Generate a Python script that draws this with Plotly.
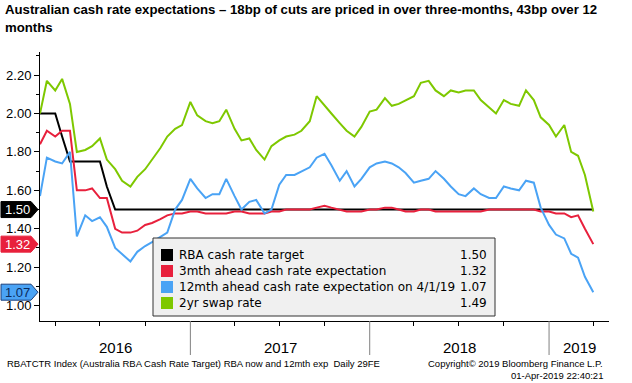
import plotly.graph_objects as go
import pandas as pd

# semi-monthly observation dates (1st and 15th), Mar 2016 .. Apr 2019
dates = []
for y in range(2016, 2020):
    for m in range(1, 13):
        for d in (1, 15):
            s = f"{y}-{m:02d}-{d:02d}"
            if "2016-03-01" <= s <= "2019-04-01":
                dates.append(s)

rba_target = [2.00, 2.00, 2.00, 1.88, 1.75, 1.75, 1.75, 1.75, 1.75, 1.62] + [1.50] * 65

exp_3m = [1.84, 1.91, 1.88, 1.91, 1.91, 1.60, 1.60, 1.61, 1.56, 1.56,
          1.40, 1.38, 1.38, 1.39, 1.42, 1.43, 1.45, 1.47, 1.48, 1.48,
          1.49, 1.49, 1.48, 1.48, 1.48, 1.48, 1.49, 1.49, 1.48, 1.48,
          1.48, 1.49, 1.49, 1.50, 1.50, 1.50, 1.50, 1.51, 1.52, 1.51,
          1.50, 1.49, 1.49, 1.49, 1.50, 1.50, 1.51, 1.51, 1.50, 1.49,
          1.49, 1.50, 1.50, 1.49, 1.49, 1.49, 1.49, 1.49, 1.49, 1.49,
          1.50, 1.50, 1.50, 1.50, 1.50, 1.50, 1.50, 1.49, 1.49, 1.48,
          1.48, 1.46, 1.47, 1.40, 1.32]

exp_12m = [1.57, 1.77, 1.75, 1.74, 1.80, 1.36, 1.47, 1.44, 1.46, 1.41,
           1.30, 1.27, 1.23, 1.28, 1.31, 1.33, 1.36, 1.38, 1.50, 1.55,
           1.66, 1.61, 1.56, 1.58, 1.58, 1.66, 1.57, 1.50, 1.54, 1.55,
           1.48, 1.50, 1.63, 1.68, 1.68, 1.70, 1.72, 1.77, 1.79, 1.73,
           1.65, 1.70, 1.62, 1.66, 1.72, 1.74, 1.75, 1.74, 1.72, 1.69,
           1.64, 1.65, 1.66, 1.70, 1.66, 1.62, 1.58, 1.57, 1.61, 1.58,
           1.56, 1.56, 1.62, 1.61, 1.60, 1.65, 1.64, 1.51, 1.42, 1.37,
           1.35, 1.27, 1.25, 1.15, 1.07]

swap_2y = [2.00, 2.17, 2.12, 2.18, 2.05, 1.80, 1.81, 1.83, 1.87, 1.76,
           1.71, 1.65, 1.62, 1.67, 1.71, 1.76, 1.82, 1.88, 1.92, 1.94,
           2.06, 1.99, 1.96, 1.95, 1.96, 2.02, 1.92, 1.86, 1.87, 1.81,
           1.76, 1.83, 1.86, 1.88, 1.89, 1.91, 1.96, 2.09, 2.04, 2.00,
           1.95, 1.91, 1.88, 1.93, 2.01, 2.02, 2.08, 2.04, 2.05, 2.07,
           2.09, 2.16, 2.17, 2.12, 2.09, 2.12, 2.11, 2.12, 2.12, 2.07,
           2.03, 2.00, 2.07, 2.05, 2.04, 2.12, 2.07, 1.98, 1.94, 1.88,
           1.94, 1.80, 1.78, 1.68, 1.49]

series_names = ["RBA cash rate target", "3mth ahead cash rate expectation",
                "12mth ahead cash rate expectation on 4/1/19", "2yr swap rate"]
series_vals = [rba_target, exp_3m, exp_12m, swap_2y]
colors = ["#000000", "#e8203c", "#4aa3f5", "#7ec800"]

y_ticks = [1.00, 1.20, 1.40, 1.60, 1.80, 2.00, 2.20]
years = [2016, 2017, 2018, 2019]
x_range = ["2016-03-01", "2019-05-03"]
y_range = [0.92, 2.32]

title_lines = ["Australian cash rate expectations – 18bp of cuts are priced in over three-months, 43bp over 12",
               "months"]

W, H = 632, 383
L, R, T, B = 40, 23, 52, 62
PW, PH = W - L - R, H - T - B
FONT = "DejaVu Sans, sans-serif"
SMALL = "Liberation Sans, Arial, sans-serif"


def px(xp):
    return (xp - L) / PW


def py(yp):
    return (H - B - yp) / PH


fig = go.Figure()
for name, vals, col in zip(series_names, series_vals, colors):
    fig.add_trace(go.Scatter(x=dates, y=vals, mode="lines", name=name,
                             line=dict(color=col, width=2), showlegend=False,
                             hoverinfo="skip"))

# quarterly minor ticks (non-January)
quarters = [f"{y}-{m:02d}-01" for y in range(2016, 2020) for m in (4, 7, 10)
            if x_range[0] <= f"{y}-{m:02d}-01" <= x_range[1]]

fig.update_layout(
    width=W, height=H, margin=dict(l=L, r=R, t=T, b=B, autoexpand=False),
    plot_bgcolor="white", paper_bgcolor="white",
    font=dict(family=FONT, size=13, color="black"),
    xaxis=dict(range=x_range, showgrid=False, zeroline=False, showline=True,
               automargin=False,
               linecolor="black", linewidth=1, showticklabels=False, ticks="",
               tickvals=[],
               minor=dict(tickmode="array", tickvals=quarters, ticks="outside",
                          ticklen=4, tickcolor="black", showgrid=False)),
    yaxis=dict(range=y_range, showgrid=False, zeroline=False, showline=True,
               automargin=False,
               linecolor="black", linewidth=1, tickvals=y_ticks,
               ticktext=[f"{v:.2f}" for v in y_ticks], ticks="outside",
               ticklen=5, tickcolor="black",
               tickfont=dict(family=SMALL, size=13),
               minor=dict(dtick=0.1, tick0=0, ticks="outside", ticklen=3,
                          tickcolor="black", showgrid=False)),
)

# title lines
for txt, ty in zip(title_lines, [9, 28]):
    fig.add_annotation(x=px(3), xref="paper", y=py(ty), yref="paper", text=f"<b>{txt}</b>",
                       showarrow=False, xanchor="left", yanchor="middle",
                       font=dict(family=SMALL, size=13.2))

# year boundary lines and year labels
starts = [pd.Timestamp(x_range[0])] + [pd.Timestamp(f"{y}-01-01") for y in years[1:]]
ends = [pd.Timestamp(f"{y}-01-01") for y in years[1:]] + [pd.Timestamp(x_range[1])]
for y in years[1:]:
    fig.add_shape(type="line", xref="x", yref="paper", x0=f"{y}-01-01",
                  x1=f"{y}-01-01", y0=0, y1=py(355), line=dict(color="#808080", width=1))
for y, s, e in zip(years, starts, ends):
    fig.add_annotation(x=s + (e - s) / 2, xref="x", y=py(347), yref="paper",
                       text=str(y), showarrow=False, font=dict(family=SMALL, size=15),
                       xanchor="center", yanchor="middle")

# value tags on the left axis
tag_styles = [(rba_target[-1], "#000000", "white", "#000000"),
              (exp_3m[-1], "#e8203c", "white", "#e8203c"),
              (exp_12m[-1], "#4aa3f5", "#0b2a5c", "#1c3f7a")]
hh = 8.0 / (PH / (y_range[1] - y_range[0]))
for v, bg, fg, bd in tag_styles:
    x0, x1, xt = px(1), px(31), px(38)
    path = f"M {x0},{v - hh} L {x1},{v - hh} L {xt},{v} L {x1},{v + hh} L {x0},{v + hh} Z"
    fig.add_shape(type="path", xref="paper", yref="y", path=path,
                  fillcolor=bg, line=dict(color=bd, width=1), layer="above")
    fig.add_annotation(x=px(17), xref="paper", y=v, yref="y", text=f"{v:.2f}",
                       showarrow=False, font=dict(family=SMALL, size=13, color=fg),
                       xanchor="center", yanchor="middle", borderpad=0)

# legend panel
bx0, bx1, by0, by1 = 153, 495, 238, 316
fig.add_shape(type="rect", xref="paper", yref="paper", x0=px(bx0), x1=px(bx1),
              y0=py(by1), y1=py(by0), fillcolor="#f0f0f0",
              line=dict(color="#333333", width=1), layer="above")
row_y = [255, 271, 287, 303]
for name, vals, col, ry in zip(series_names, series_vals, colors, row_y):
    fig.add_shape(type="rect", xref="paper", yref="paper", x0=px(161), x1=px(173),
                  y0=py(ry + 6), y1=py(ry - 6), fillcolor=col, line=dict(width=0),
                  layer="above")
    fig.add_annotation(x=px(177), xref="paper", y=py(ry), yref="paper", text=name,
                       showarrow=False, xanchor="left", yanchor="middle",
                       font=dict(size=12))
    fig.add_annotation(x=px(489), xref="paper", y=py(ry), yref="paper",
                       text=f"{vals[-1]:.2f}", showarrow=False, xanchor="right",
                       yanchor="middle", font=dict(size=12))

# footer
fig.add_annotation(x=px(5), xref="paper", y=py(363), yref="paper",
                   text="RBATCTR Index (Australia RBA Cash Rate Target) RBA now and 12mth exp  Daily 29FE",
                   showarrow=False, xanchor="left", yanchor="middle",
                   font=dict(family=SMALL, size=9.5))
fig.add_annotation(x=px(605), xref="paper", y=py(363), yref="paper",
                   text="Copyright© 2019 Bloomberg Finance L.P.",
                   showarrow=False, xanchor="right", yanchor="middle",
                   font=dict(family=SMALL, size=9.5))
fig.add_annotation(x=px(605), xref="paper", y=py(376), yref="paper",
                   text="01-Apr-2019 22:40:21",
                   showarrow=False, xanchor="right", yanchor="middle",
                   font=dict(family=SMALL, size=9.5))

fig.write_html("out.html", config={"displayModeBar": False},
               post_script="document.body.style.margin='0';document.body.style.overflow='hidden';")
